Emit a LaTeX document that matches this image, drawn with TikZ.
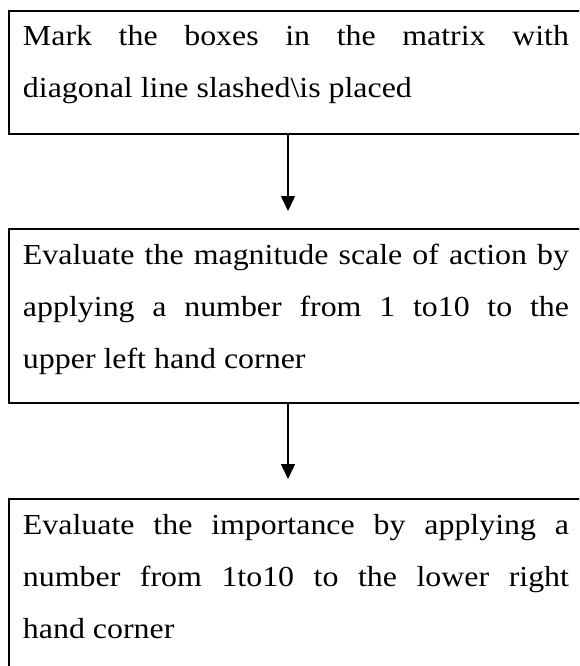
\documentclass[tikz,border=0pt]{standalone}
\usepackage{fontspec}
\setmainfont{Liberation Serif}[FakeStretch=1.1]
\usetikzlibrary{arrows.meta,positioning}

\begin{document}
\begin{tikzpicture}[
    x=1pt, y=1pt,
    stepbox/.style={draw, line width=2pt, anchor=north west, text width=546pt,
      align=justify, inner xsep=14pt, inner ysep=0pt, text height=35pt,
      font=\fontsize{29}{52}\selectfont},
    arr/.style={-{Triangle[length=15pt, width=14pt]}, line width=1.6pt},
  ]
  \useasboundingbox (0,0) rectangle (579,-666);
  \clip (0,0) rectangle (579,-666);
  \node[stepbox, text depth=88pt] (mark) at (8,-10)
    {Mark the boxes in the matrix with\linebreak diagonal line slashed\textbackslash is placed};
  \node[stepbox, text depth=139pt] (magn) at (8,-228)
    {Evaluate the magnitude scale of action by\linebreak applying a number from 1 to10 to the\linebreak upper left hand corner};
  \node[stepbox, text depth=139pt] (impo) at (8,-498)
    {Evaluate the importance by applying a\linebreak number from 1to10 to the lower right\linebreak hand corner};
  \draw[arr, shorten >=17pt] ([xshift=-8pt]mark.south) -- ([xshift=-8pt]magn.north);
  \draw[arr, shorten >=19pt] ([xshift=-8pt]magn.south) -- ([xshift=-8pt]impo.north);
\end{tikzpicture}
\end{document}
